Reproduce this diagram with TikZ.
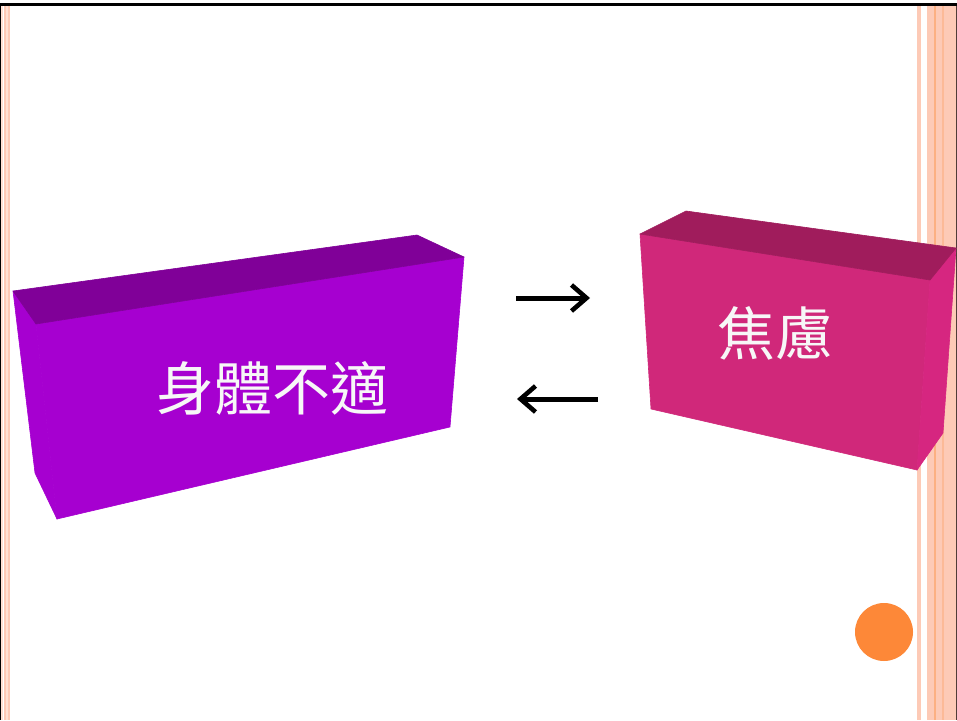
\documentclass[tikz,border=0pt]{standalone}
\usepackage{fontspec}
\newfontfamily\cjk{Noto Sans CJK TC}
\usetikzlibrary{arrows.meta}
\definecolor{stripe}{RGB}{253,202,182}
\definecolor{stripedark}{RGB}{252,176,130}
\definecolor{stripelight}{RGB}{255,225,212}
\definecolor{edgebrown}{RGB}{80,60,55}
\definecolor{purfront}{RGB}{166,0,208}
\definecolor{purtop}{RGB}{128,0,152}
\definecolor{pinkfront}{RGB}{208,40,122}
\definecolor{pinktop}{RGB}{160,28,92}
\definecolor{pinkside}{RGB}{214,38,128}
\definecolor{dotorange}{RGB}{253,136,56}
\tikzset{
  boxlabel/.style={text=white!94!gray, font=\cjk\fontsize{58}{60}\selectfont, inner sep=0pt},
  relarrow/.style={line width=5pt, -{Straight Barb[length=15pt,width=26pt,line width=4.6pt]}},
  face/.style={fill=#1, draw=#1, line width=0.6pt, line join=round}
}
\begin{document}
\begin{tikzpicture}[x=1pt,y=-1pt]
\useasboundingbox (0,0) rectangle (957,720);
\fill[white] (0,0) rectangle (957,720);
% left border
\fill[black] (0,3) rectangle (1,720);
\fill[stripelight] (1,6) rectangle (3,720);
\fill[stripe] (4,6) rectangle (10,720);
\fill[stripelight] (6,6) rectangle (7.5,720);
% right border
\fill[stripe] (917,6) rectangle (921,720);
\fill[stripe] (927,6) rectangle (956,720);
\fill[stripedark] (933.5,6) rectangle (936,720);
\fill[stripedark!60!stripe] (942,6) rectangle (944,720);
\fill[edgebrown] (955.5,6) rectangle (957,720);
% top line
\fill[black] (0,3) rectangle (957,6);
% purple box
\path[face=purfront] (13,291) -- (36,324) -- (57,519) -- (35,473) -- cycle;
\path[face=purfront] (36,324) -- (464,257) -- (450,427) -- (57,519) -- cycle;
\path[face=purtop] (13,291) -- (417,235) -- (464,257) -- (36,324) -- cycle;
\node[boxlabel] (t1) at (272,388) {身體不適};
% pink box
\path[face=pinkfront] (640,234) -- (930,280) -- (917,470) -- (651,409) -- cycle;
\path[face=pinkside] (930,280) -- (956,248) -- (943,433) -- (917,470) -- cycle;
\path[face=pinktop] (640,234) -- (686,211) -- (956,248) -- (930,280) -- cycle;
\node[boxlabel] (t2) at (775,333) {焦慮};
% arrows
\coordinate (r1) at (516,298);
\coordinate (r2) at (590,298);
\coordinate (l1) at (598,399);
\coordinate (l2) at (517,399);
\draw[relarrow] (r1) -- (r2);
\draw[relarrow] (l1) -- (l2);
% orange dot
\fill[dotorange] (884,632) circle (29);
\end{tikzpicture}
\end{document}
